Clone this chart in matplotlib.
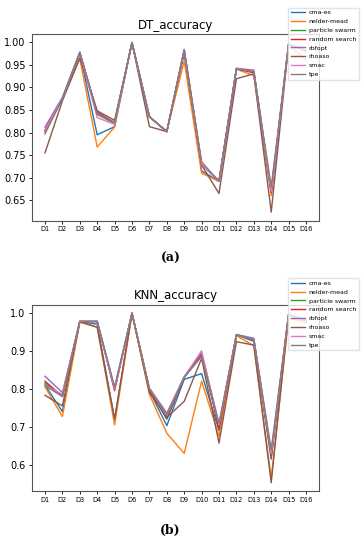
import matplotlib.pyplot as plt
from matplotlib.ticker import MultipleLocator, FormatStrFormatter

datasets = ['D%d' % i for i in range(1, 17)]
methods = ['cma-es', 'nelder-mead', 'particle swarm', 'random search',
           'rbfopt', 'rhoaso', 'smac', 'tpe']

# DT accuracy per method, D1..D16
dt_cma = [0.803, 0.875, 0.975, 0.795, 0.813, 0.999, 0.835, 0.802, 0.975, 0.715, 0.692, 0.940, 0.935, 0.668, 0.995, 0.980]
dt_nm = [0.800, 0.875, 0.963, 0.768, 0.812, 0.999, 0.835, 0.802, 0.958, 0.710, 0.692, 0.940, 0.926, 0.660, 0.995, 0.960]
dt_ps = [0.805, 0.875, 0.977, 0.840, 0.820, 0.999, 0.835, 0.802, 0.982, 0.730, 0.692, 0.941, 0.935, 0.668, 0.995, 0.980]
dt_rs = [0.805, 0.875, 0.977, 0.845, 0.822, 0.999, 0.835, 0.802, 0.982, 0.730, 0.692, 0.941, 0.932, 0.668, 0.995, 0.980]
dt_rbf = [0.812, 0.878, 0.977, 0.843, 0.820, 0.999, 0.835, 0.802, 0.983, 0.730, 0.692, 0.942, 0.938, 0.670, 0.995, 0.982]
dt_rho = [0.755, 0.870, 0.965, 0.848, 0.827, 0.999, 0.813, 0.802, 0.980, 0.728, 0.665, 0.919, 0.930, 0.624, 0.995, 0.980]
dt_smac = [0.805, 0.875, 0.977, 0.833, 0.818, 0.999, 0.835, 0.802, 0.982, 0.730, 0.692, 0.941, 0.935, 0.670, 0.995, 0.980]
dt_tpe = [0.797, 0.875, 0.978, 0.840, 0.822, 0.999, 0.835, 0.802, 0.984, 0.735, 0.692, 0.942, 0.935, 0.680, 0.996, 0.982]

# KNN accuracy per method, D1..D16
knn_cma = [0.810, 0.740, 0.977, 0.970, 0.720, 0.999, 0.795, 0.703, 0.825, 0.840, 0.690, 0.942, 0.925, 0.615, 0.995, 0.978]
knn_nm = [0.805, 0.727, 0.975, 0.962, 0.705, 0.999, 0.785, 0.683, 0.630, 0.820, 0.675, 0.940, 0.913, 0.565, 0.985, 0.975]
knn_ps = [0.815, 0.780, 0.977, 0.977, 0.800, 0.999, 0.798, 0.720, 0.830, 0.890, 0.700, 0.942, 0.930, 0.620, 0.995, 0.978]
knn_rs = [0.820, 0.780, 0.977, 0.977, 0.795, 0.999, 0.798, 0.722, 0.830, 0.892, 0.695, 0.942, 0.930, 0.625, 0.995, 0.978]
knn_rbf = [0.833, 0.790, 0.977, 0.977, 0.800, 0.999, 0.802, 0.736, 0.832, 0.895, 0.705, 0.943, 0.933, 0.630, 0.995, 0.980]
knn_rho = [0.783, 0.755, 0.977, 0.962, 0.720, 0.999, 0.790, 0.725, 0.767, 0.880, 0.657, 0.924, 0.915, 0.553, 0.995, 0.978]
knn_smac = [0.810, 0.785, 0.977, 0.977, 0.800, 0.999, 0.800, 0.730, 0.832, 0.900, 0.705, 0.942, 0.930, 0.630, 0.995, 0.978]
knn_tpe = [0.808, 0.780, 0.978, 0.978, 0.805, 0.999, 0.800, 0.730, 0.830, 0.885, 0.710, 0.942, 0.930, 0.640, 0.996, 0.980]

dt_data = [dt_cma, dt_nm, dt_ps, dt_rs, dt_rbf, dt_rho, dt_smac, dt_tpe]
knn_data = [knn_cma, knn_nm, knn_ps, knn_rs, knn_rbf, knn_rho, knn_smac, knn_tpe]

fig = plt.figure(figsize=(3.63, 5.5), dpi=100)
ax1 = fig.add_axes([0.088, 0.599, 0.791, 0.339])
ax2 = fig.add_axes([0.088, 0.107, 0.791, 0.339])

for ax, data, title, ltop, lab, ly in [(ax1, dt_data, 'DT_accuracy', 0.992, '(a)', 0.518),
                                       (ax2, knn_data, 'KNN_accuracy', 0.500, '(b)', 0.024)]:
    for name, vals in zip(methods, data):
        ax.plot(datasets, vals, label=name, linewidth=1)
    ax.set_title(title, fontsize=8.5, pad=4)
    ax.tick_params(axis='x', labelsize=4.8, length=2, width=0.6, pad=2)
    ax.tick_params(axis='y', labelsize=7, length=2.5, width=0.6, pad=2)
    for s in ax.spines.values():
        s.set_color('#555555')
        s.set_linewidth(0.8)
    ax.legend(loc='upper left', bbox_to_anchor=(0.785, ltop), bbox_transform=fig.transFigure,
              fontsize=4.5, handlelength=2.3, labelspacing=0.55, borderpad=0.4,
              handletextpad=0.6, framealpha=0.8, fancybox=False, edgecolor='#dddddd')
    fig.text(0.47, ly, lab, ha='center', va='bottom', fontsize=9,
             family='DejaVu Serif', fontweight='bold')

ax1.yaxis.set_major_locator(MultipleLocator(0.05))
ax1.yaxis.set_major_formatter(FormatStrFormatter('%.2f'))

fig.savefig('out.png', dpi=100)
